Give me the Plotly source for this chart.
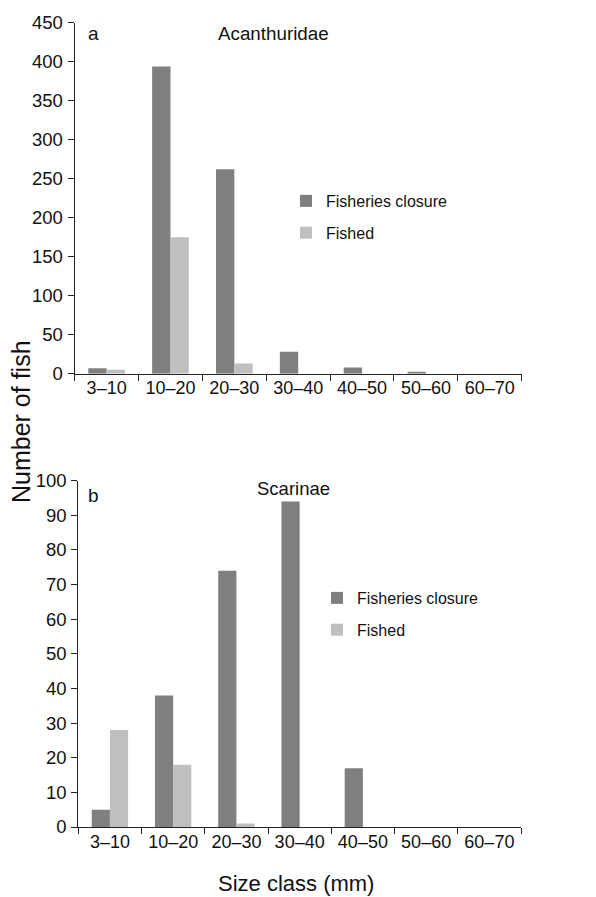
import plotly.graph_objects as go

size_classes = ["3–10", "10–20", "20–30", "30–40", "40–50", "50–60", "60–70"]

acan_closure = [7, 394, 262, 28, 8, 2, 0]
acan_fished = [5, 175, 13, 0, 0, 0, 0]

scar_closure = [5, 38, 74, 94, 17, 0, 0]
scar_fished = [28, 18, 1, 0, 0, 0, 0]

acan_ticks = [0, 50, 100, 150, 200, 250, 300, 350, 400, 450]
scar_ticks = [0, 10, 20, 30, 40, 50, 60, 70, 80, 90, 100]

DARK = "#7f7f7f"
LIGHT = "#bfbfbf"
FONT = "Liberation Sans, Arial, Helvetica, sans-serif"

W, H = 596, 897
OFF = 8  # page body margin

fig = go.Figure()

fig.add_trace(go.Bar(x=size_classes, y=acan_closure, name="Fisheries closure",
                     marker=dict(color=DARK, line=dict(width=0)),
                     xaxis="x", yaxis="y", legend="legend", legendgroup="a1"))
fig.add_trace(go.Bar(x=size_classes, y=acan_fished, name="Fished",
                     marker=dict(color=LIGHT, line=dict(width=0)),
                     xaxis="x", yaxis="y", legend="legend", legendgroup="a2"))
fig.add_trace(go.Bar(x=size_classes, y=scar_closure, name="Fisheries closure",
                     marker=dict(color=DARK, line=dict(width=0)),
                     xaxis="x2", yaxis="y2", legend="legend2", legendgroup="b1"))
fig.add_trace(go.Bar(x=size_classes, y=scar_fished, name="Fished",
                     marker=dict(color=LIGHT, line=dict(width=0)),
                     xaxis="x2", yaxis="y2", legend="legend2", legendgroup="b2"))

def px_x(p):
    return (p - OFF) / W

def px_y(p):
    return 1 - (p - OFF) / H

line_common = dict(showline=True, linecolor="#222222", linewidth=1.2,
                   ticks="outside", ticklen=6, tickcolor="#222222", tickwidth=1.2,
                   showgrid=False, zeroline=False, automargin=False)
x_common = dict(tickfont=dict(family=FONT, size=18, color="#111111"),
                ticklabelstandoff=-2, **line_common)
y_common = dict(tickfont=dict(family=FONT, size=18.5, color="#111111"),
                ticklabelstandoff=1, **line_common)

def label(text, x, y, size, angle=0):
    return dict(text=text, x=px_x(x), y=px_y(y), xref="paper", yref="paper",
                xanchor="center", yanchor="middle", showarrow=False,
                textangle=angle, font=dict(family=FONT, size=size, color="#111111"))

fig.update_layout(
    template="none",
    width=W, height=H,
    margin=dict(l=0, r=0, t=0, b=0, pad=0),
    paper_bgcolor="white", plot_bgcolor="white",
    barmode="group", bargap=0.425, bargroupgap=0,
    font=dict(family=FONT, color="#111111"),
    xaxis=dict(domain=[px_x(74.7), px_x(521.7)], anchor="y", type="category",
               tickson="boundaries", **x_common),
    yaxis=dict(domain=[px_y(373.7), px_y(22.7)], anchor="x", range=[0, 450],
               tickvals=acan_ticks, **y_common),
    xaxis2=dict(domain=[px_x(78.3), px_x(521)], anchor="y2", type="category",
                tickson="boundaries", **x_common),
    yaxis2=dict(domain=[px_y(827), px_y(480.7)], anchor="x2", range=[0, 100],
                tickvals=scar_ticks, **y_common),
    legend=dict(x=px_x(286), y=px_y(184), xanchor="left", yanchor="top",
                font=dict(family=FONT, size=16, color="#111111"),
                tracegroupgap=8, bgcolor="rgba(0,0,0,0)"),
    legend2=dict(x=px_x(317), y=px_y(581), xanchor="left", yanchor="top",
                 font=dict(family=FONT, size=16, color="#111111"),
                 tracegroupgap=8, bgcolor="rgba(0,0,0,0)"),
    annotations=[
        label("a", 93, 33, 19),
        label("Acanthuridae", 273, 33, 18.8),
        label("b", 93, 495, 19),
        label("Scarinae", 293, 488, 18.5),
        label("Number of fish", 21, 422, 25, -90),
        label("Size class (mm)", 296, 883, 22),
    ],
)

fig.write_html("out.html")
